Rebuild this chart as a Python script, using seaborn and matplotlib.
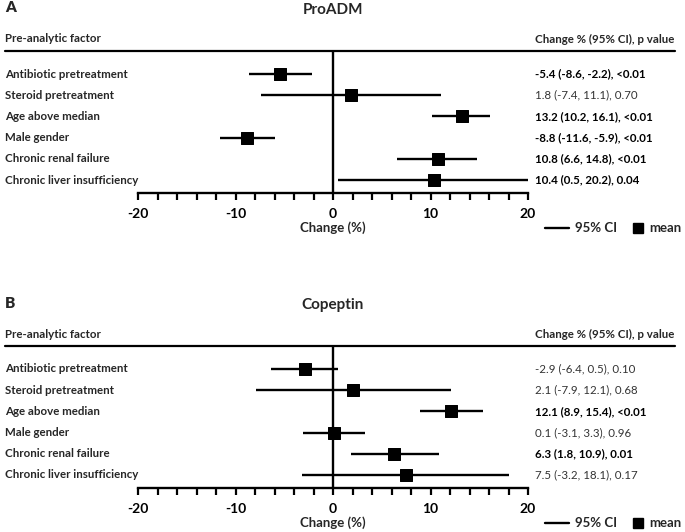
import matplotlib
matplotlib.use("Agg")
import matplotlib.pyplot as plt
import seaborn as sns
import pandas as pd
from matplotlib.lines import Line2D
from matplotlib.ticker import MultipleLocator

factors = ["Antibiotic pretreatment", "Steroid pretreatment", "Age above median",
           "Male gender", "Chronic renal failure", "Chronic liver insufficiency"]

proadm_mean = [-5.4, 1.8, 13.2, -8.8, 10.8, 10.4]
proadm_low = [-8.6, -7.4, 10.2, -11.6, 6.6, 0.5]
proadm_high = [-2.2, 11.1, 16.1, -5.9, 14.8, 20.2]
proadm_p = ["<0.01", "0.70", "<0.01", "<0.01", "<0.01", "0.04"]
proadm_bold = [True, False, True, True, True, True]

copeptin_mean = [-2.9, 2.1, 12.1, 0.1, 6.3, 7.5]
copeptin_low = [-6.4, -7.9, 8.9, -3.1, 1.8, -3.2]
copeptin_high = [0.5, 12.1, 15.4, 3.3, 10.9, 18.1]
copeptin_p = ["0.10", "0.68", "<0.01", "0.96", "0.01", "0.17"]
copeptin_bold = [False, False, True, False, True, False]

x_ticks = [-20, -10, 0, 10, 20]

sns.set_theme(style="white")
plt.rcParams['font.family'] = ['Lato', 'DejaVu Sans']
plt.rcParams['axes.unicode_minus'] = False

W, H = 685, 532
fig = plt.figure(figsize=(W / 100, H / 100), dpi=100)


def fx(px):
    return px / W


def fy(py):
    return 1 - py / H


def panel(letter, title, mean, low, high, pvals, bold, top):
    # top = pixel y of header line
    row0 = top + 23
    step = 21.2
    axis_y = top + 142
    ax = fig.add_axes([fx(138), fy(axis_y), fx(528) - fx(138), fy(top) - fy(axis_y)])
    df = pd.DataFrame({"factor": factors, "mean": mean, "low": low, "high": high,
                       "row": range(len(factors))})
    ax.hlines(df["row"], df["low"], df["high"], color="black", lw=1.7)
    sns.scatterplot(data=df, x="mean", y="row", marker="s", s=80, color="black",
                    edgecolor="black", ax=ax, zorder=3)
    ax.axvline(0, color="black", lw=1.7)
    ax.set_xlim(-20, 20)
    ax.set_ylim((axis_y - row0) / step, (top - row0) / step)
    ax.set_xticks(x_ticks)
    ax.set_xticklabels([str(t) for t in x_ticks])
    ax.xaxis.set_minor_locator(MultipleLocator(2))
    ax.tick_params(axis="x", which="both", direction="out", length=5, width=1.6,
                   bottom=True, labelsize=10, pad=6, colors="black")
    for lab in ax.get_xticklabels():
        lab.set_fontweight("bold")
    ax.set_yticks([])
    ax.set_xlabel("")
    ax.set_ylabel("")
    for s in ["top", "left", "right"]:
        ax.spines[s].set_visible(False)
    ax.spines["bottom"].set_linewidth(1.7)
    ax.spines["bottom"].set_color("black")
    ax.patch.set_alpha(0)

    fig.text(fx(5), fy(top - 43), letter, fontsize=11, fontweight="heavy", va="center")
    fig.text(fx(333), fy(top - 41), title, fontsize=11, fontweight="bold",
             va="center", ha="center")
    fig.text(fx(5), fy(top - 12), "Pre-analytic factor", fontsize=8.3, fontweight="bold",
             va="center")
    fig.text(fx(535), fy(top - 12), "Change % (95% CI), p value", fontsize=8.3,
             fontweight="bold", va="center")
    fig.add_artist(Line2D([fx(5), fx(675)], [fy(top), fy(top)], color="black", lw=1.6))
    for i, f in enumerate(factors):
        y = fy(row0 + step * i)
        fig.text(fx(5), y, f, fontsize=8.3, fontweight="bold", va="center")
        txt = f"{mean[i]:.1f} ({low[i]:.1f}, {high[i]:.1f}), {pvals[i]}"
        fig.text(fx(535), y, txt, fontsize=8.3,
                 fontweight="bold" if bold[i] else "normal",
                 color="black" if bold[i] else "#333333", va="center")
    ly = fy(axis_y + 35)
    fig.text(fx(333), ly, "Change (%)", fontsize=9.5, fontweight="bold",
             ha="center", va="center")
    fig.add_artist(Line2D([fx(545), fx(569)], [ly, ly], color="black", lw=1.7))
    fig.text(fx(575), ly, "95% CI", fontsize=9.5, fontweight="bold", va="center")
    fig.add_artist(Line2D([fx(638)], [ly], marker="s", markersize=7, color="black",
                          linestyle="none"))
    fig.text(fx(649), ly, "mean", fontsize=9.5, fontweight="bold", va="center")


panel("A", "ProADM", proadm_mean, proadm_low, proadm_high, proadm_p, proadm_bold, 51)
panel("B", "Copeptin", copeptin_mean, copeptin_low, copeptin_high, copeptin_p,
      copeptin_bold, 346)

fig.savefig("out.png", dpi=100)
